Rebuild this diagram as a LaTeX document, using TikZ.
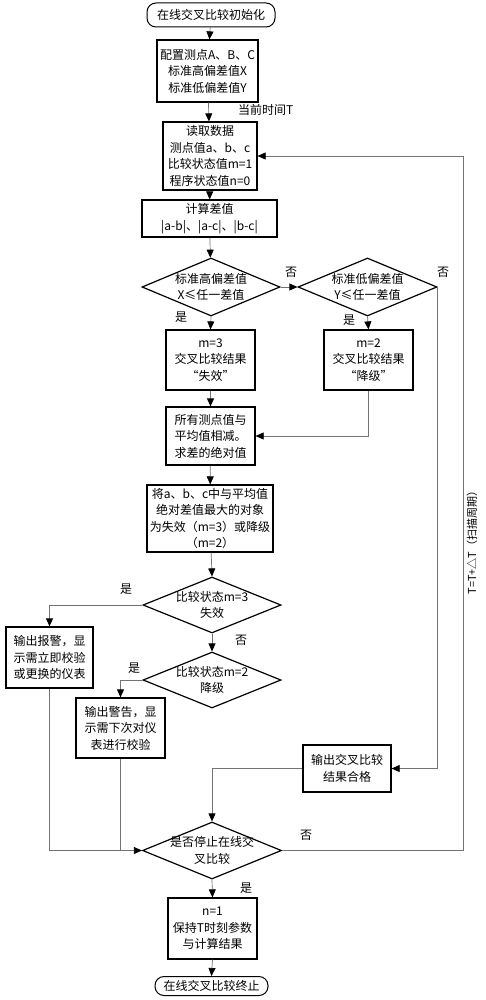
\documentclass[tikz,border=0pt]{standalone}
\usepackage{fontspec}
\setmainfont{Noto Sans CJK SC}
\usetikzlibrary{shapes.geometric,arrows.meta}
\begin{document}
\begin{tikzpicture}[x=1pt,y=-1pt,
  every node/.style={font=\fontsize{12}{16.5}\selectfont},
  box/.style={draw,line width=1.2pt,align=center,inner sep=1pt},
  term/.style={draw,line width=1pt,rounded corners=9pt,align=center,inner sep=1pt},
  dia/.style={draw,line width=1.2pt,diamond,inner sep=0pt},
  conn/.style={draw=black!55,line width=0.7pt,-{Triangle[length=8pt,width=7pt,color=black]}},
  plain/.style={draw=black!55,line width=0.7pt},
  lbl/.style={font=\fontsize{12}{14}\selectfont,inner sep=0pt}]
\useasboundingbox (0,0) rectangle (485,1000);
% nodes
\node[term,minimum width=128,minimum height=24] (start) at (211,15) {在线交叉比较初始化};
\node[box,minimum width=101,minimum height=62] (b1) at (207.5,71) {配置测点A、B、C\\标准高偏差值X\\标准低偏差值Y};
\node[box,minimum width=94,minimum height=68] (b2) at (210,156) {读取数据\\测点值a、b、c\\比较状态值m=1\\程序状态值n=0};
\node[box,minimum width=135,minimum height=37] (b3) at (209.5,218.5) {计算差值\\|a-b|、|a-c|、|b-c|};
\node[dia,minimum width=138,minimum height=58,label={[align=center,font=\fontsize{12}{16.5}\selectfont]center:标准高偏差值\\X≤任一差值}] (d1) at (211,287) {};
\node[dia,minimum width=139,minimum height=58,label={[align=center,font=\fontsize{12}{16.5}\selectfont]center:标准低偏差值\\Y≤任一差值}] (d2) at (367.5,287) {};
\node[box,minimum width=89,minimum height=60] (bm3) at (210.5,360) {m=3\\交叉比较结果\\“失效”};
\node[box,minimum width=89,minimum height=60] (bm2) at (368.5,360) {m=2\\交叉比较结果\\“降级”};
\node[box,minimum width=89,minimum height=58] (b4) at (210.5,436) {所有测点值与\\平均值相减。\\求差的绝对值};
\node[box,minimum width=126,minimum height=67] (b5) at (210,518.5) {将a、b、c中与平均值\\绝对差值最大的对象\\为失效（m=3）或降级\\（m=2）};
\node[dia,minimum width=138,minimum height=56,label={[align=center,font=\fontsize{12}{16.5}\selectfont]center:比较状态m=3\\失效}] (d3) at (212,605) {};
\node[dia,minimum width=138,minimum height=56,label={[align=center,font=\fontsize{12}{16.5}\selectfont]center:比较状态m=2\\降级}] (d4) at (212,680) {};
\node[box,minimum width=87,minimum height=61] (alarm) at (49.5,657.5) {输出报警，显\\示需立即校验\\或更换的仪表};
\node[box,minimum width=89,minimum height=60] (warn) at (120.5,728) {输出警告，显\\示需下次对仪\\表进行校验};
\node[box,minimum width=88,minimum height=47] (ok) at (347,768.5) {输出交叉比较\\结果合格};
\node[dia,minimum width=139,minimum height=57,label={[align=center,font=\fontsize{12}{16.5}\selectfont]center:是否停止在线交\\叉比较}] (d5) at (212,850.5) {};
\node[box,minimum width=89,minimum height=61] (b6) at (212.5,928.5) {n=1\\保持T时刻参数\\与计算结果};
\node[term,minimum width=113,minimum height=19] (end) at (211.5,986) {在线交叉比较终止};
\coordinate (loopx) at (463,0);
\coordinate (d2x) at (437,0);
% connectors
\draw[conn] (start) -- (b1);
\draw[conn] (b1) -- (b2);
\draw[conn] (b2) -- (b3);
\draw[conn] (b3) -- (d1);
\draw[conn] (d1.east) -- (d2.west);
\draw[conn] (d1.south) -- (bm3.north);
\draw[conn] (d2.south) -- (bm2.north);
\draw[conn] (bm3) -- (b4);
\draw[conn] (bm2.south) |- (b4.east);
\draw[conn] (b4) -- (b5);
\draw[conn] (b5) -- (d3.north);
\draw[conn] (d3.west) -| (alarm.north);
\draw[conn] (d3.south) -- (d4.north);
\draw[conn] (d4.west) -| (warn.north);
\draw[conn] (d2.east) -- (d2x |- d2.east) -- (d2x |- ok.east) -- (ok.east);
\draw[conn] (ok.west) -| (d5.north);
\draw[conn] (alarm.south) |- (d5.west);
\draw[plain] (warn.south) -- (warn.south |- d5.west);
\draw[conn] (d5.south) -- (b6.north);
\draw[conn] (b6.south) -- (end.north);
\draw[conn] (d5.east) -- (d5.east -| loopx) -- (loopx |- b2.east) -- (b2.east);
% labels
\node[lbl,anchor=west] (lt) at (238,110) {当前时间T};
\node[lbl] (n1) at (291,272) {否};
\node[lbl] (n2) at (443,272) {否};
\node[lbl] (y1) at (181,317) {是};
\node[lbl] (y2) at (349,320) {是};
\node[lbl] (y3) at (126,589) {是};
\node[lbl] (n3) at (241,640) {否};
\node[lbl] (y4) at (134,668) {是};
\node[lbl] (n4) at (306,835) {否};
\node[lbl] (y5) at (246,888) {是};
\node[lbl,rotate=90,font=\fontsize{11}{13}\selectfont] (tl) at (472,540) {T=T+△T（扫描周期）};
\end{tikzpicture}
\end{document}
